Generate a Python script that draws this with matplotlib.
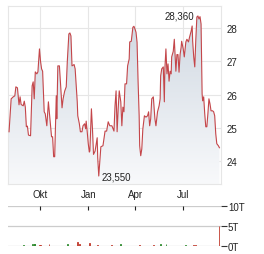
import matplotlib
matplotlib.use("Agg")
import matplotlib.pyplot as plt
import matplotlib.dates as mdates
import numpy as np
import pandas as pd

plt.rcParams['font.family'] = ['Liberation Sans', 'DejaVu Sans']

# price series
dates = [
    "2022-08-03", "2022-08-07", "2022-08-11", "2022-08-14", "2022-08-16", "2022-08-19",
    "2022-08-22", "2022-08-24", "2022-08-26", "2022-08-30", "2022-09-01", "2022-09-03",
    "2022-09-05", "2022-09-07", "2022-09-09", "2022-09-13", "2022-09-16", "2022-09-18",
    "2022-09-20", "2022-09-22", "2022-09-25", "2022-09-27", "2022-09-30", "2022-10-02",
    "2022-10-04", "2022-10-06", "2022-10-09", "2022-10-11", "2022-10-14", "2022-10-17",
    "2022-10-20", "2022-10-23", "2022-10-25", "2022-10-27", "2022-10-29", "2022-10-31",
    "2022-11-01", "2022-11-02", "2022-11-04", "2022-11-07", "2022-11-10", "2022-11-12",
    "2022-11-14", "2022-11-17", "2022-11-20", "2022-11-22", "2022-11-25", "2022-11-27",
    "2022-11-29", "2022-12-01", "2022-12-05", "2022-12-07", "2022-12-09", "2022-12-11",
    "2022-12-12", "2022-12-15", "2022-12-17", "2022-12-20", "2022-12-22", "2022-12-25",
    "2022-12-27", "2022-12-28", "2022-12-30", "2023-01-01", "2023-01-03", "2023-01-04",
    "2023-01-07", "2023-01-09", "2023-01-11", "2023-01-14", "2023-01-18", "2023-01-19",
    "2023-01-21", "2023-01-23", "2023-01-25", "2023-01-29", "2023-02-02", "2023-02-05",
    "2023-02-08", "2023-02-11", "2023-02-15", "2023-02-19", "2023-02-21", "2023-02-23",
    "2023-02-25", "2023-02-27", "2023-03-01", "2023-03-04", "2023-03-06", "2023-03-08",
    "2023-03-10", "2023-03-12", "2023-03-15", "2023-03-17", "2023-03-20", "2023-03-21",
    "2023-03-24", "2023-03-27", "2023-03-29", "2023-03-31", "2023-04-02", "2023-04-04",
    "2023-04-06", "2023-04-08", "2023-04-09", "2023-04-11", "2023-04-13", "2023-04-15",
    "2023-04-18", "2023-04-21", "2023-04-24", "2023-04-26", "2023-04-28", "2023-04-30",
    "2023-05-02", "2023-05-05", "2023-05-08", "2023-05-10", "2023-05-13", "2023-05-16",
    "2023-05-18", "2023-05-19", "2023-05-21", "2023-05-24", "2023-05-26", "2023-05-27",
    "2023-05-29", "2023-05-31", "2023-06-02", "2023-06-04", "2023-06-06", "2023-06-08",
    "2023-06-09", "2023-06-12", "2023-06-14", "2023-06-17", "2023-06-19", "2023-06-21",
    "2023-06-23", "2023-06-25", "2023-06-27", "2023-06-28", "2023-07-01", "2023-07-03",
    "2023-07-06", "2023-07-08", "2023-07-11", "2023-07-13", "2023-07-16", "2023-07-18",
    "2023-07-19", "2023-07-21", "2023-07-23", "2023-07-25", "2023-07-27", "2023-07-29",
    "2023-07-31", "2023-08-02", "2023-08-04", "2023-08-06", "2023-08-07", "2023-08-09",
    "2023-08-11", "2023-08-13", "2023-08-15", "2023-08-17", "2023-08-19", "2023-08-21",
    "2023-08-23", "2023-08-26", "2023-08-28", "2023-08-30", "2023-09-01", "2023-09-03",
    "2023-09-06", "2023-09-08",
]
prices = [
    24.88, 25.87, 25.93, 25.96, 26.23, 26.20,
    25.69, 25.93, 25.70, 25.66, 25.80, 25.62,
    25.03, 25.05, 24.78, 24.76, 26.26, 26.38,
    25.87, 26.68, 26.62, 26.68, 27.37, 27.00,
    26.77, 26.70, 25.48, 25.42, 25.06, 25.78,
    25.27, 24.73, 24.73, 24.13, 24.13, 25.27,
    25.96, 25.27, 26.86, 26.86, 26.10, 25.60,
    25.87, 26.10, 26.23, 26.98, 27.82, 27.85,
    27.76, 26.86, 26.90, 26.77, 26.27, 25.78,
    25.36, 25.12, 24.88, 24.88, 25.06, 25.12,
    24.97, 25.20, 24.88, 24.52, 24.27, 24.30,
    25.57, 24.97, 24.20, 24.30, 24.70, 24.10,
    23.55, 24.00, 24.43, 24.46, 24.90, 24.90,
    25.18, 25.06, 25.06, 24.90, 25.66, 26.11,
    24.88, 25.57, 26.11, 25.78, 25.06, 25.62,
    25.48, 26.32, 26.32, 26.86, 27.07, 27.58,
    27.60, 28.02, 28.05, 27.97, 27.87, 27.57,
    26.37, 25.36, 24.46, 24.16, 24.36, 24.96,
    25.36, 25.32, 25.36, 25.48, 25.06, 25.27,
    25.87, 25.93, 25.27, 25.06, 25.48, 25.66,
    25.87, 26.56, 26.77, 26.83, 25.78, 26.77,
    27.37, 26.62, 26.92, 26.40, 26.70, 26.62,
    27.13, 27.30, 27.66, 26.70, 27.20, 27.20,
    26.67, 27.20, 27.42, 27.60, 27.37, 27.13,
    27.58, 27.66, 27.58, 27.72, 27.90, 28.06,
    27.60, 27.13, 26.83, 27.66, 28.33, 28.36,
    28.27, 28.34, 28.12, 26.02, 25.81, 25.93,
    25.42, 25.03, 25.03, 25.42, 25.87, 25.72,
    25.51, 25.51, 25.48, 25.36, 24.82, 24.52,
    24.46, 24.40,
]

# volume (thousands) and direction
vol_dates = ["2022-08-30", "2022-09-16", "2022-09-20", "2022-09-21", "2022-09-30",
             "2022-10-02", "2022-10-18", "2022-11-23", "2022-12-11", "2022-12-15",
             "2023-01-04", "2023-01-18", "2023-02-15", "2023-03-04", "2023-04-08",
             "2023-05-06", "2023-05-18", "2023-05-29", "2023-07-06", "2023-07-21",
             "2023-07-25", "2023-09-07"]
vol_values = [0.35, 0.4, 0.5, 0.4, 0.3, 0.3, 0.4, 0.4, 1.0, 0.5, 0.75, 0.3,
              0.3, 0.4, 0.3, 0.3, 0.4, 0.6, 0.3, 0.3, 0.3, 5.0]
vol_up = [True, True, True, True, False, False, False, True, False, False, False, False,
          False, True, False, False, True, True, True, False, False, False]

x_ticks = ["2022-10-01", "2023-01-01", "2023-04-01", "2023-07-01"]
x_tick_labels = ["Okt", "Jan", "Apr", "Jul"]
y_ticks = [24, 25, 26, 27, 28]
vol_ticks = [0, 5, 10]
vol_tick_labels = ["0T", "5T", "10T"]

s = pd.Series(prices, index=pd.to_datetime(dates))
xmin, xmax = pd.Timestamp("2022-08-01"), pd.Timestamp("2023-09-11")
ymin, ymax = 23.31, 28.66

fig = plt.figure(figsize=(2.64, 2.55), dpi=100)
ax = fig.add_axes([8 / 264, 1 - 185 / 255, 213 / 264, 178 / 255])
av = fig.add_axes([8 / 264, 1 - 247 / 255, 213 / 264, 40 / 255])

grid_c = "#e6e6e6"
txt_c = "#222222"
line_c = "#c4464a"

# gradient fill under the price line
x_num = mdates.date2num(s.index)
poly = ax.fill_between(x_num, s.values, ymin, color="none", lw=0)
grad = np.linspace(0, 1, 256).reshape(-1, 1)
cmap = matplotlib.colors.LinearSegmentedColormap.from_list("g", ["#f8f9fb", "#cdd6e0"])
img = ax.imshow(grad, aspect="auto", cmap=cmap, origin="lower",
                extent=[mdates.date2num(xmin), mdates.date2num(xmax), ymin, ymax], zorder=1)
img.set_clip_path(poly.get_paths()[0], transform=ax.transData)
ax.plot(x_num, s.values, color=line_c, lw=0.8, zorder=3)

ax.set_xlim(mdates.date2num(xmin), mdates.date2num(xmax))
ax.set_ylim(ymin, ymax)
ax.set_xticks(mdates.date2num(pd.to_datetime(x_ticks)))
ax.set_xticklabels([])
ax.tick_params(axis="x", length=0)
ax.yaxis.tick_right()
ax.set_yticks(y_ticks)
ax.set_yticklabels([str(t) for t in y_ticks])
ax.tick_params(axis="y", length=0, pad=4, labelsize=7, labelcolor=txt_c)
ax.grid(True, color=grid_c, lw=0.8, zorder=0)
ax.set_axisbelow(True)
for sp in ax.spines.values():
    sp.set_color(grid_c)
    sp.set_linewidth(0.8)

# min / max labels
i_max = s.values.argmax()
i_min = s.values.argmin()
ax.annotate(f"{s.values[i_max]:.3f}".replace(".", ","), xy=(x_num[i_max], s.values[i_max]),
            xytext=(-3, 0), textcoords="offset points", ha="right", va="center",
            fontsize=7, color=txt_c, zorder=4)
ax.annotate(f"{s.values[i_min]:.3f}".replace(".", ","), xy=(x_num[i_min], s.values[i_min]),
            xytext=(2, 0), textcoords="offset points", ha="left", va="center",
            fontsize=7, color=txt_c, zorder=4)

# volume panel
vx = mdates.date2num(pd.to_datetime(vol_dates))
vcol = ["#2e8b2e" if u else "#c0392b" for u in vol_up]
av.bar(vx, vol_values, width=1.5, color=vcol, edgecolor=vcol, lw=0.6, zorder=3)
av.set_xlim(mdates.date2num(xmin), mdates.date2num(xmax))
av.set_ylim(0, 10)
for sp in av.spines.values():
    sp.set_visible(False)
for t in vol_ticks:
    av.axhline(t, color="#cccccc", lw=0.9, zorder=1)
av.yaxis.tick_right()
av.set_yticks(vol_ticks)
av.set_yticklabels(vol_tick_labels)
av.tick_params(axis="y", length=4, width=0.8, color="#333333", pad=1, labelsize=7,
               labelcolor=txt_c)
av.xaxis.tick_top()
av.set_xticks(mdates.date2num(pd.to_datetime(x_ticks)))
av.set_xticklabels(x_tick_labels)
av.tick_params(axis="x", direction="in", length=3, width=0.8, color="#222222", pad=5,
               labelsize=7, labelcolor=txt_c)

fig.savefig("out.png", dpi=100)
